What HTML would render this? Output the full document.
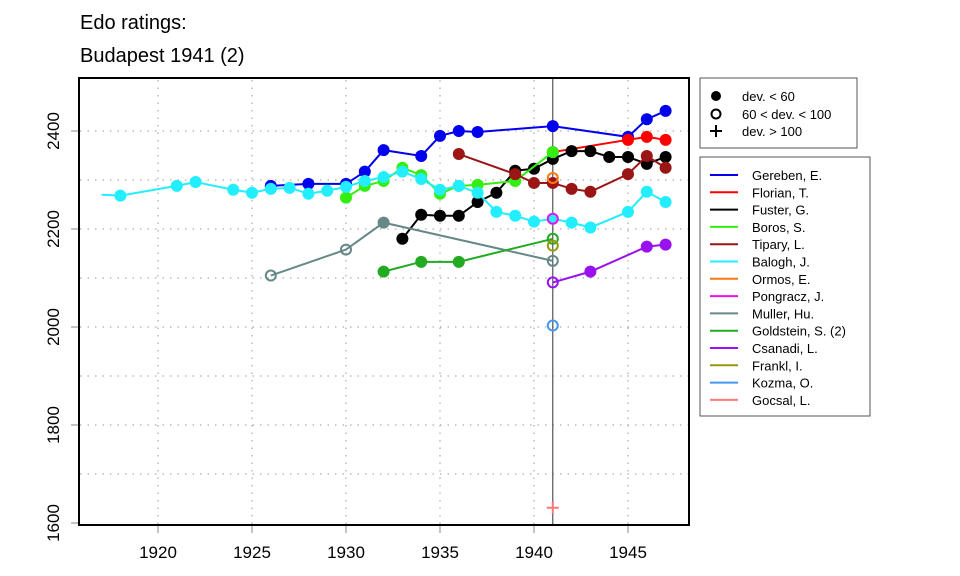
<!DOCTYPE html>
<html><head><meta charset="utf-8"><style>
body{margin:0;background:#fff}
svg{display:block;font-family:"Liberation Sans",Arial,sans-serif}
</style></head><body>
<svg id="c" width="960" height="576" viewBox="0 0 960 576">
<rect width="960" height="576" fill="#fff"/>
<text x="80" y="29" font-size="20">Edo ratings:</text>
<text x="80" y="62" font-size="20">Budapest 1941 (2)</text>
<g id="grid"></g><g id="axes"></g><g id="series"></g>
<rect x="79" y="78" width="610" height="447" fill="none" stroke="#000" stroke-width="2"/>
<g>
<rect x="700" y="78" width="157" height="70" fill="#fff" stroke="#555"/>
<circle cx="716" cy="96" r="5" fill="#000"/><text x="742" y="101" font-size="13">dev. &lt; 60</text>
<circle cx="716" cy="114" r="4.5" fill="none" stroke="#000" stroke-width="2"/><text x="742" y="119" font-size="13">60 &lt; dev. &lt; 100</text>
<path d="M710 131h12M716 125v12" stroke="#000" stroke-width="2"/><text x="742" y="136" font-size="13">dev. &gt; 100</text>
</g>
<g id="legend"><rect x="700" y="157" width="170" height="259" fill="#fff" stroke="#555"/></g>
</svg>
<script>
const NS="http://www.w3.org/2000/svg";
const names=["Gereben, E.","Florian, T.","Fuster, G.","Boros, S.","Tipary, L.","Balogh, J.","Ormos, E.","Pongracz, J.","Muller, Hu.","Goldstein, S. (2)","Csanadi, L.","Frankl, I.","Kozma, O.","Gocsal, L."];
const colors=["#0000ee","#ff0000","#000000","#33ee11","#9b1515","#22eeff","#ff7711","#ee11ee","#668888","#22aa22","#9911ee","#999911","#4499ee","#ff7777"];
const years=[
[1926,1928,1930,1931,1932,1934,1935,1936,1937,1941,1945,1946,1947],
[1941,1945,1946,1947],
[1933,1934,1935,1936,1937,1938,1939,1940,1941,1942,1943,1944,1945,1946,1947],
[1930,1931,1932,1933,1934,1935,1936,1937,1939,1941],
[1936,1939,1940,1941,1942,1943,1945,1946,1947],
[1917,1918,1921,1922,1924,1925,1926,1927,1928,1929,1930,1931,1932,1933,1934,1935,1936,1937,1938,1939,1940,1941,1942,1943,1945,1946,1947],
[1941],[1941],[1926,1930,1932,1941],[1932,1934,1936,1941],[1941,1943,1946,1947],[1941],[1941],[1941]];
const ratings=[
[2288,2292,2292,2317,2361,2349,2390,2400,2398,2410,2388,2424,2441],
[2357,2382,2388,2382],
[2180,2229,2227,2227,2255,2274,2319,2323,2343,2359,2359,2347,2347,2333,2347],
[2264,2288,2298,2325,2310,2272,2288,2290,2298,2357],
[2353,2312,2294,2294,2282,2276,2312,2349,2325],
[2270,2268,2288,2296,2280,2274,2282,2284,2272,2278,2286,2298,2306,2317,2302,2280,2288,2274,2235,2227,2215,2221,2213,2203,2235,2276,2255],
[2304],[2221],[2105,2158,2213,2135],[2113,2133,2133,2180],[2091,2113,2164,2168],[2166],[2003],[1631]];
// marker kind: f=filled, o=open, p=plus, n=none
const kinds=[
"fffffffffffff","ffff","fffffffffffffff","ffffffffff","fffffffff","nffffffffffffffffffffffffff",
"o","o","oofo","fffo","offf","o","o","p"];
const xTicks=[1920,1925,1930,1935,1940,1945];
const yTicks=[1600,1800,2000,2200,2400];
const X=y=>158+(y-1920)*18.8, Y=v=>523-(v-1600)*0.49;
function el(t,a,p){const e=document.createElementNS(NS,t);for(const k in a)e.setAttribute(k,a[k]);p.appendChild(e);return e;}
const G=document.getElementById('grid'),A=document.getElementById('axes'),S=document.getElementById('series'),L=document.getElementById('legend');
for(let v=1700;v<=2400;v+=100){const l=el('line',{x1:80,x2:688,y1:Y(v),y2:Y(v),stroke:'#999','stroke-dasharray':'1.5 6'},G);

}
xTicks.forEach(t=>{const l=el('line',{x1:X(t),x2:X(t),y1:80,y2:524,stroke:'#999','stroke-dasharray':'1.5 6'},G);


const tk=el('line',{x1:X(t),x2:X(t),y1:525,y2:533,stroke:'#888'},A);


const tx=el('text',{x:X(t),y:558,'font-size':17,'text-anchor':'middle'},A);tx.textContent=t;

});
yTicks.forEach(t=>{const tk=el('line',{x1:71,x2:79,y1:Y(t),y2:Y(t),stroke:'#888'},A);


const tx=el('text',{x:0,y:0,'font-size':17,'text-anchor':'middle',transform:`translate(59,${Y(t)}) rotate(-90)`},A);tx.textContent=t;

});
const vl=el('line',{x1:X(1941),x2:X(1941),y1:79,y2:524,stroke:'#333','stroke-width':1},A);


names.forEach((n,i)=>{
const g=el('g',{},S);


const c=colors[i];
if(years[i].length>1){const p=el('polyline',{points:years[i].map((y,j)=>X(y)+','+Y(ratings[i][j])).join(' '),fill:'none',stroke:c,'stroke-width':2},g);

}
years[i].forEach((y,j)=>{const k=kinds[i][j],cx=X(y),cy=Y(ratings[i][j]);let m;
if(k==='f')m=el('circle',{cx,cy,r:6,fill:c},g);
else if(k==='o')m=el('circle',{cx,cy,r:5,fill:'none',stroke:c,'stroke-width':2},g);
else if(k==='p')m=el('path',{d:`M${cx-6} ${cy}h12M${cx} ${cy-6}v12`,stroke:c,'stroke-width':2},g);
if(m){
}});
const ly=175+i*17.3;
const ll=el('line',{x1:710,x2:738,y1:ly,y2:ly,stroke:c,'stroke-width':2},L);


const lt=el('text',{x:752,y:ly+5,'font-size':13},L);lt.textContent=n;


});
</script>
</body></html>
